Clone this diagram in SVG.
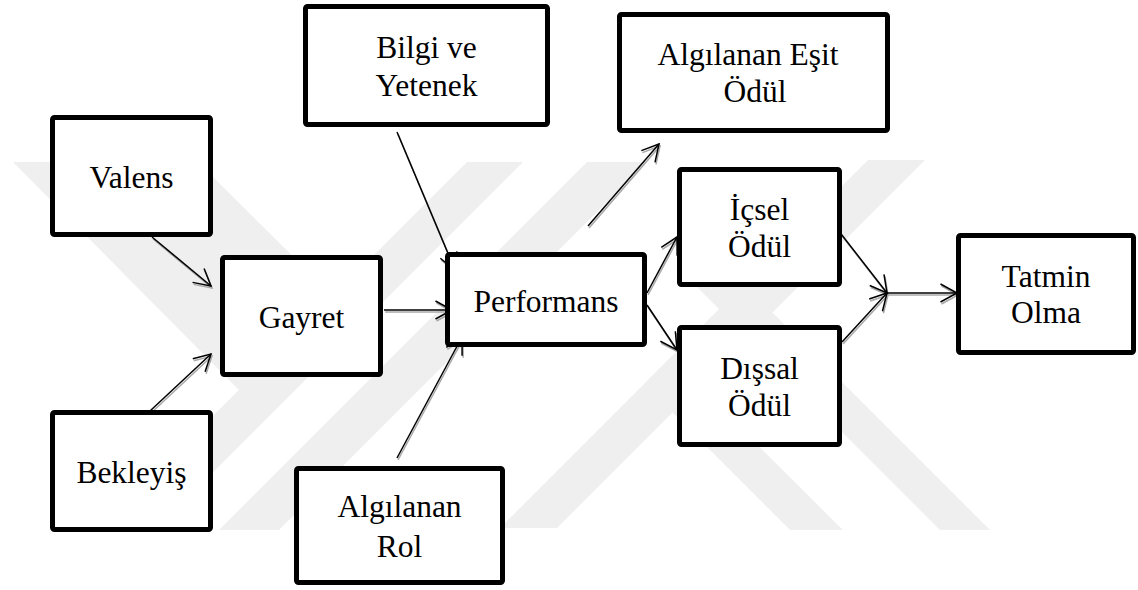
<svg xmlns="http://www.w3.org/2000/svg" xmlns:xlink="http://www.w3.org/1999/xlink" width="1138" height="590" viewBox="0 0 1138 590">
  <style>
    .box { fill: #ffffff; stroke: #000000; stroke-width: 5; stroke-linejoin: round; }
    .label { font-family: "Liberation Serif", "Times New Roman", serif; font-size: 31.5px; fill: #000000; text-anchor: middle; }
    .mark { fill: #efefef; stroke: none; }
    .wire { fill: none; stroke: #000000; stroke-width: 1.5; marker-end: url(#arrow); }
    .shade { fill: none; stroke: #a8a8a8; stroke-width: 1.5; marker-end: url(#arrowShade); }
  </style>
  <defs>
    <marker id="arrow" markerUnits="userSpaceOnUse" viewBox="-20 -11 22 22" refX="0" refY="0" markerWidth="22" markerHeight="22" orient="auto">
      <path d="M -16.5,-9 L 0,0 L -16.5,9" fill="none" stroke="#000000" stroke-width="1.5"/>
    </marker>
    <marker id="arrowShade" markerUnits="userSpaceOnUse" viewBox="-20 -11 22 22" refX="0" refY="0" markerWidth="22" markerHeight="22" orient="auto">
      <path d="M -16.5,-9 L 0,0 L -16.5,9" fill="none" stroke="#a8a8a8" stroke-width="1.5"/>
    </marker>
  </defs>

  <rect width="1138" height="590" fill="#ffffff"/>

  <!-- faint background emblem -->
  <g id="watermark">
    <polygon class="mark" points="13,162 198,162 361,324 155,530 99,530 239,390"/>
    <polygon class="mark" points="467,162 523,162 155,530 99,530"/>
    <polygon class="mark" points="587,162 647,162 279,530 219,530"/>
    <polygon class="mark" points="868,160 925,160 557,528 500,528"/>
    <polygon class="mark" points="644,384 670,358 843,530 790,530"/>
    <polygon class="mark" points="680,270 730,270 990,530 940,530"/>
  </g>

  <!-- connectors: soft offset shadow, then the black arrows -->
  <g id="connectors">
    <g class="shade" transform="translate(1,2)">
      <use xlink:href="#e1"/>
      <use xlink:href="#e2"/>
      <use xlink:href="#e3"/>
      <use xlink:href="#e4"/>
      <use xlink:href="#e5"/>
      <use xlink:href="#e6"/>
      <use xlink:href="#e7"/>
      <use xlink:href="#e8"/>
      <use xlink:href="#e9"/>
      <use xlink:href="#e10"/>
      <use xlink:href="#e11"/>
    </g>
    <g class="wire">
      <path id="e1" d="M152,237 L211,286"/>
      <path id="e2" d="M150,411 L211,354"/>
      <path id="e3" d="M384,310 L452,310"/>
      <path id="e4" d="M397,132 L455,270"/>
      <path id="e5" d="M397,458 L462,337"/>
      <path id="e6" d="M588,226 L659,144"/>
      <path id="e7" d="M647,293 L677,237"/>
      <path id="e8" d="M647,305 L677,350"/>
      <path id="e9" d="M838,230 L887,293"/>
      <path id="e10" d="M842,342 L887,293"/>
      <path id="e11" d="M887,293 L957,293"/>
    </g>
  </g>

  <g id="valens">
    <rect class="box" x="52.5" y="117.5" width="158" height="117" rx="2"/>
    <text class="label" x="131.5" y="188">Valens</text>
  </g>
  <g id="bilgi-ve-yetenek">
    <rect class="box" x="305.5" y="6.5" width="242" height="118" rx="2"/>
    <text class="label" x="426.5" y="58">Bilgi ve</text>
    <text class="label" x="426.5" y="96">Yetenek</text>
  </g>
  <g id="algilanan-esit-odul">
    <rect class="box" x="619.5" y="14.5" width="268" height="116" rx="2"/>
    <text class="label" x="748" y="65">Algılanan Eşit</text>
    <text class="label" x="755" y="102">Ödül</text>
  </g>
  <g id="gayret">
    <rect class="box" x="222.5" y="257.5" width="158" height="117" rx="2"/>
    <text class="label" x="301.5" y="328">Gayret</text>
  </g>
  <g id="performans">
    <rect class="box" x="447.5" y="254.5" width="197" height="90" rx="2"/>
    <text class="label" x="546" y="312">Performans</text>
  </g>
  <g id="icsel-odul">
    <rect class="box" x="679.5" y="169.5" width="160" height="115" rx="2"/>
    <text class="label" x="759.5" y="220">İçsel</text>
    <text class="label" x="759.5" y="257">Ödül</text>
  </g>
  <g id="dissal-odul">
    <rect class="box" x="679.5" y="327.5" width="160" height="117" rx="2"/>
    <text class="label" x="759.5" y="379">Dışsal</text>
    <text class="label" x="759.5" y="416">Ödül</text>
  </g>
  <g id="tatmin-olma">
    <rect class="box" x="958.5" y="235.5" width="175" height="117" rx="2"/>
    <text class="label" x="1046" y="287">Tatmin</text>
    <text class="label" x="1046" y="323">Olma</text>
  </g>
  <g id="bekleyis">
    <rect class="box" x="52.5" y="412.5" width="158" height="117" rx="2"/>
    <text class="label" x="131.5" y="483">Bekleyiş</text>
  </g>
  <g id="algilanan-rol">
    <rect class="box" x="296.5" y="468.5" width="206" height="114" rx="2"/>
    <text class="label" x="399.5" y="517">Algılanan</text>
    <text class="label" x="399.5" y="557">Rol</text>
  </g>
</svg>
